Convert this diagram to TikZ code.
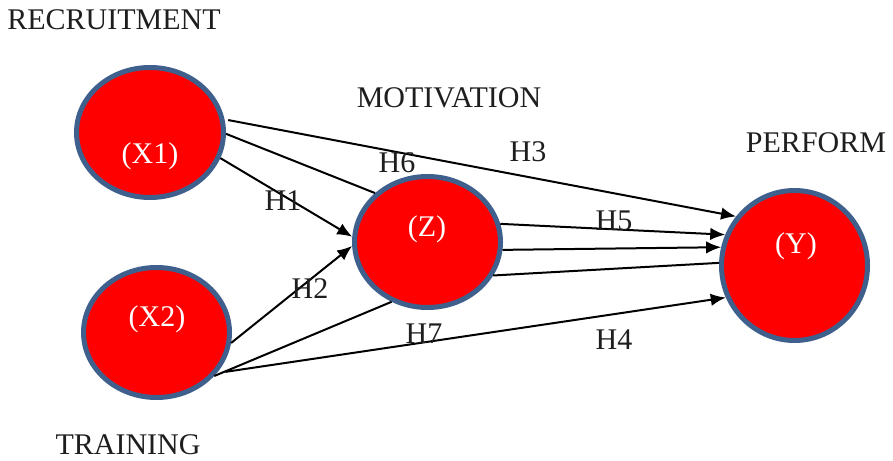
\documentclass[tikz,border=0pt]{standalone}
\usepackage{fontspec}
\setmainfont{Liberation Serif}
\usetikzlibrary{shapes,arrows.meta}
\definecolor{rim}{RGB}{63,95,140}
\definecolor{ink}{RGB}{30,30,30}

\begin{document}
\begin{tikzpicture}[x=0.8pt,y=-0.8pt,
    var/.style={ellipse,draw=rim,fill=red,line width=4pt,inner sep=0pt},
    txt/.style={anchor=base,inner sep=0pt,text=ink,font=\fontsize{24}{28}\selectfont},
    wtxt/.style={txt,text=white},
    link/.style={line width=1.6pt,black},
    hyp/.style={-{Latex[length=12pt,width=10pt]}}]
                      \useasboundingbox (0,0) rectangle (893,461);
                      \node[var,minimum width=117.6pt,minimum height=104pt] (X1) at (150,132.5) {};
                      \node[var,minimum width=116.8pt,minimum height=104pt] (X2) at (156.5,332.5) {};
                      \node[var,minimum width=116.8pt,minimum height=104.8pt] (Z) at (427.5,242) {};
                      \node[var,minimum width=116.8pt,minimum height=120pt] (Y) at (794.5,265.5) {};
                      \node[wtxt] (TX1) at (150,164) {(X1)};
                      \node[wtxt] (TX2) at (157,326) {(X2)};
                      \node[wtxt] (TZ) at (427,237) {(Z)};
                      \node[wtxt] (TY) at (796,254) {(Y)};
                      \node[txt] (Rec) at (114,30) {RECRUITMENT};
                      \node[txt] (Mot) at (449,108) {MOTIVATION};
                      \node[txt] (Perf) at (816,153) {PERFORM};
                      \node[txt] (Train) at (128,454) {TRAINING};
                      \path[link] (X1.10) edge[hyp,shorten <=3pt] (Y.140);
                      \path[link] (X1.-1) edge (Z.137);
                      \path[link] (X1.-20) edge[hyp] (Z.176);
                      \path[link] (X2.-8) edge[hyp] (Z.183);
                      \path[link] (X2.-37) edge (Z.-121);
                      \path[link] (X2.-34) edge[hyp,shorten <=7pt] (Y.205);
                      \path[link] (Z.14) edge[hyp] (Y.156) (Z.-6) edge[hyp] (Y.166);
                      \path[link] (Z.-27) edge (Y.178);
                      \node[txt] (H1) at (283,211) {H1};
                      \node[txt] (H2) at (310,299) {H2};
                      \node[txt] (H3) at (528,162) {H3};
                      \node[txt] (H4) at (614,349) {H4};
                      \node[txt] (H5) at (614,231) {H5};
                      \node[txt] (H6) at (397,173) {H6};
                      \node[txt] (H7) at (424,343) {H7};
                    \end{tikzpicture}
\end{document}
